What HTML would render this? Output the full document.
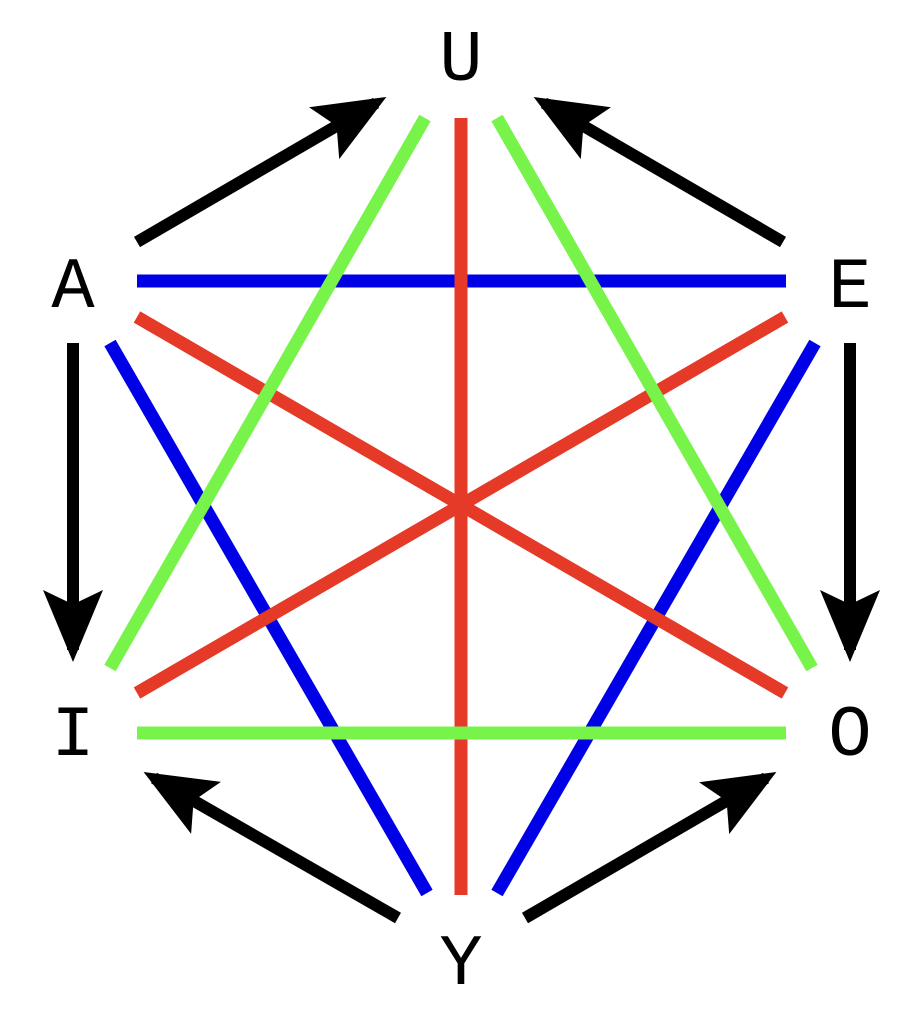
<!DOCTYPE html>
<html><head><meta charset="utf-8"><style>html,body{margin:0;padding:0;background:#fff}svg{display:block}</style></head>
<body>
<svg width="915" height="1016" viewBox="0 0 915 1016" xmlns="http://www.w3.org/2000/svg">
<defs>
<marker id="ah" markerWidth="6" markerHeight="5" refX="5" refY="2.5" orient="auto" markerUnits="strokeWidth">
<path d="M0,0 L6,2.5 L0,5 L1.2,2.5 Z" fill="#000"/>
</marker>
</defs>
<g stroke-width="13" fill="none">
<line x1="137" y1="281" x2="786" y2="281" stroke="#0000e6"/>
<line x1="110" y1="343" x2="427" y2="893" stroke="#0000e6"/>
<line x1="815" y1="343" x2="497" y2="893" stroke="#0000e6"/>
<line x1="461" y1="118" x2="461" y2="895" stroke="#e63a28"/>
<line x1="137" y1="317" x2="785" y2="693" stroke="#e63a28"/>
<line x1="785" y1="317" x2="137" y2="693" stroke="#e63a28"/>
<line x1="425" y1="118" x2="110" y2="668" stroke="#77f34a"/>
<line x1="497" y1="118" x2="812" y2="668" stroke="#77f34a"/>
<line x1="137" y1="733" x2="786" y2="733" stroke="#77f34a"/>
</g>
<g stroke="#000" stroke-width="12" marker-end="url(#ah)">
<line x1="137" y1="242" x2="376" y2="103"/>
<line x1="783" y1="242" x2="544" y2="103"/>
<line x1="73" y1="343" x2="73" y2="650"/>
<line x1="850" y1="343" x2="850" y2="650"/>
<line x1="398" y1="918" x2="154" y2="778"/>
<line x1="525" y1="918" x2="766" y2="778"/>
</g>
<g font-family="Liberation Mono, monospace" font-size="72" text-anchor="middle" fill="#000">
<text x="461" y="80">U</text>
<text x="73" y="307">A</text>
<text x="850" y="307">E</text>
<text x="73" y="755">I</text>
<text x="850" y="755">O</text>
<text x="461" y="984">Y</text>
</g>
</svg>
</body></html>
